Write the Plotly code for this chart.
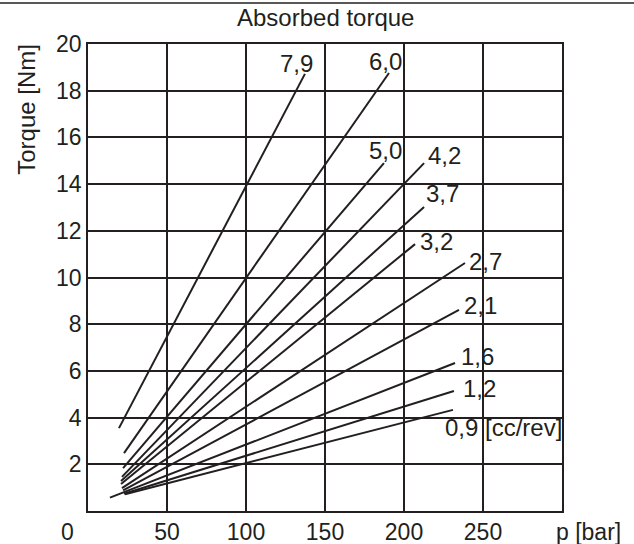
import plotly.graph_objects as go

# displacement curves: absorbed torque vs pressure
labels = ["7,9", "6,0", "5,0", "4,2", "3,7", "3,2", "2,7", "2,1", "1,6", "1,2", "0,9 [cc/rev]"]
p_start = [19.6, 22.8, 22.2, 21.5, 20.9, 20.9, 21.5, 22.2, 13.9, 22.8, 23.4]
t_start = [3.55, 2.48, 1.84, 1.46, 1.28, 1.16, 0.98, 0.88, 0.57, 0.74, 0.72]
p_end = [137.3, 190.5, 187.3, 212.7, 212.7, 207.0, 238.6, 234.8, 232.3, 231.6, 231.0]
t_end = [18.72, 18.76, 14.90, 14.90, 13.02, 11.43, 10.62, 8.61, 6.34, 5.14, 4.33]

x_ticks = [50, 100, 150, 200, 250]
y_ticks = [2, 4, 6, 8, 10, 12, 14, 16, 18, 20]

# label offsets from line end (pixels)
label_dx = [-8, -3, 2, 20, 18, 21, 21, 22, 22, 26, 51]
label_dy = [10, 11, 13, 8, 13, 3, 2, 4, 6, 2, -18]

INK = "#231f20"
FONT = dict(family="Liberation Sans, Arial, sans-serif", size=24, color=INK)
TICK_FONT = dict(family="Liberation Sans, Arial, sans-serif", size=23, color=INK)

fig = go.Figure()
for i in range(len(labels)):
    fig.add_trace(go.Scatter(
        x=[p_start[i], p_end[i]], y=[t_start[i], t_end[i]],
        mode="lines", line=dict(color=INK, width=2),
        showlegend=False, hoverinfo="skip"))
    fig.add_annotation(x=p_end[i], y=t_end[i], text=labels[i], showarrow=False,
                       xshift=label_dx[i], yshift=label_dy[i], font=FONT)

axis_common = dict(showgrid=True, gridcolor=INK, gridwidth=1.5,
                   showline=True, linecolor=INK, linewidth=1.5, mirror=True,
                   zeroline=False, ticks="", tickfont=TICK_FONT, automargin=False)
fig.update_xaxes(range=[0, 300], tickvals=x_ticks, ticklabelstandoff=0, **axis_common)
fig.update_yaxes(range=[0, 20], tickvals=y_ticks, ticklabelstandoff=0, **axis_common)

paper_text = dict(xref="paper", yref="paper", showarrow=False,
                  xanchor="center", yanchor="middle")
fig.add_annotation(text="Absorbed torque", x=0.5, y=1.056, font=FONT, **paper_text)
fig.add_annotation(text="Torque [Nm]", x=-0.129, y=0.861, textangle=-90, font=FONT, **paper_text)
fig.add_annotation(text="p [bar]", x=1.055, y=-0.045, font=TICK_FONT, **paper_text)
fig.add_annotation(text="0", x=-0.044, y=-0.045, font=TICK_FONT, **paper_text)
fig.add_shape(type="line", xref="paper", yref="paper", x0=-0.19, x1=1.16,
              y0=1.088, y1=1.088, line=dict(color=INK, width=1.5))

fig.update_layout(width=634, height=544, plot_bgcolor="white", paper_bgcolor="white",
                  margin=dict(l=88, r=72, t=44, b=33))
fig.write_html("out.html", config={"displayModeBar": False},
               post_script="document.body.style.margin='0';")
